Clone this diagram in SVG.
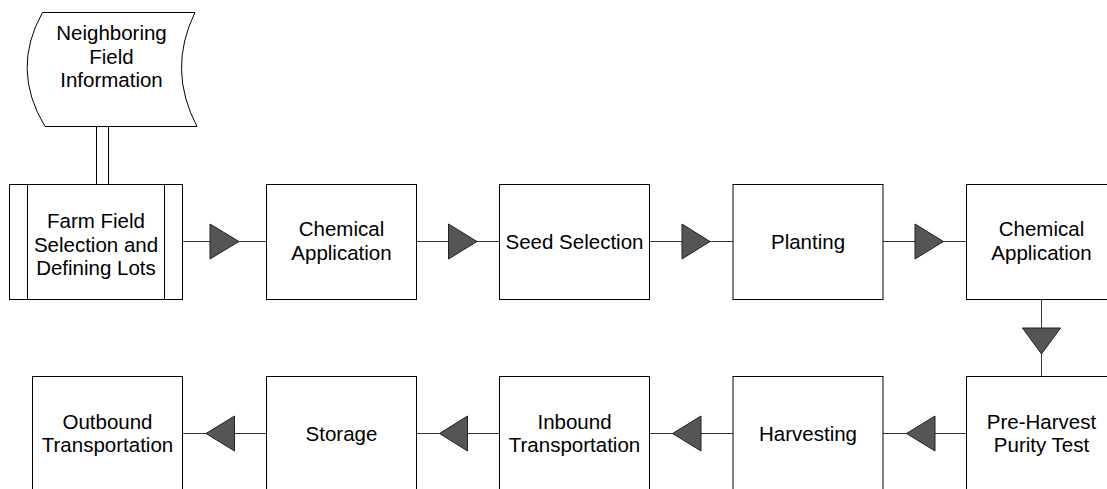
<svg xmlns="http://www.w3.org/2000/svg" width="1107" height="489" viewBox="0 0 1107 489">
<style>
.box{fill:#fff;stroke:#000;stroke-width:1}
.ln{stroke:#333;stroke-width:1;fill:none}
.tri{fill:#555;stroke:#222;stroke-width:1;stroke-linejoin:miter}
text{font-family:"Liberation Sans",Arial,sans-serif;font-size:20.5px;fill:#000;text-anchor:middle}
</style>
<rect width="1107" height="489" fill="#fff"/>
<g id="connectors">
<line class="ln" x1="96.5" y1="127" x2="96.5" y2="184.5" style="stroke:#000"/>
<line class="ln" x1="108.5" y1="127" x2="108.5" y2="184.5" style="stroke:#000"/>
<line class="ln" x1="182.5" y1="241.5" x2="266.5" y2="241.5"/>
<polygon class="tri" points="210,224 239,241.5 210,259"/>
<line class="ln" x1="416.5" y1="241.5" x2="499.5" y2="241.5"/>
<polygon class="tri" points="448.5,224 477,241.5 448.5,259"/>
<line class="ln" x1="649.5" y1="241.5" x2="733" y2="241.5"/>
<polygon class="tri" points="682,224 710,241.5 682,259"/>
<line class="ln" x1="883" y1="241.5" x2="966.5" y2="241.5"/>
<polygon class="tri" points="915,224 943.5,241.5 915,259"/>
<line class="ln" x1="1041.5" y1="299.5" x2="1041.5" y2="376.5"/>
<polygon class="tri" points="1022.5,328 1060.5,328 1041.5,354"/>
<line class="ln" x1="883" y1="433.5" x2="966.5" y2="433.5"/>
<polygon class="tri" points="935,416 906.5,433.5 935,451"/>
<line class="ln" x1="649.5" y1="433.5" x2="733" y2="433.5"/>
<polygon class="tri" points="701,416 672.5,433.5 701,451"/>
<line class="ln" x1="416.5" y1="433.5" x2="499.5" y2="433.5"/>
<polygon class="tri" points="467.5,416 439.5,433.5 467.5,451"/>
<line class="ln" x1="182.5" y1="433.5" x2="266.5" y2="433.5"/>
<polygon class="tri" points="234.5,416 206,433.5 234.5,451"/>
</g>
<g id="neighboring">
<path class="box" d="M42.5,12.5 L195,12.5 Q167,69.5 197,126.5 L45,126.5 Q10.5,69.5 42.5,12.5 Z"/>
<text x="111.5" y="40">Neighboring</text>
<text x="111.5" y="63.5">Field</text>
<text x="111.5" y="87">Information</text>
</g>
<g id="farm-field">
<rect class="box" x="9.5" y="184.5" width="173" height="115"/>
<line class="ln" x1="27.5" y1="184.5" x2="27.5" y2="299.5" style="stroke:#000"/>
<line class="ln" x1="164.5" y1="184.5" x2="164.5" y2="299.5" style="stroke:#000"/>
<text x="96" y="228">Farm Field</text>
<text x="96" y="251.5">Selection and</text>
<text x="96" y="275">Defining Lots</text>
</g>
<g id="chem1">
<rect class="box" x="266.5" y="184.5" width="150" height="115"/>
<text x="341.5" y="236">Chemical</text>
<text x="341.5" y="260">Application</text>
</g>
<g id="seed">
<rect class="box" x="499.5" y="184.5" width="150" height="115"/>
<text x="574.5" y="248.5">Seed Selection</text>
</g>
<g id="planting">
<rect class="box" x="733" y="184.5" width="150" height="115"/>
<text x="808" y="249">Planting</text>
</g>
<g id="chem2">
<rect class="box" x="966.5" y="184.5" width="150" height="115"/>
<text x="1041.5" y="236">Chemical</text>
<text x="1041.5" y="260">Application</text>
</g>
<g id="preharvest">
<rect class="box" x="966.5" y="376.5" width="150" height="115"/>
<text x="1041.5" y="429">Pre-Harvest</text>
<text x="1041.5" y="451.5">Purity Test</text>
</g>
<g id="harvesting">
<rect class="box" x="733" y="376.5" width="150" height="115"/>
<text x="808" y="440.5">Harvesting</text>
</g>
<g id="inbound">
<rect class="box" x="499.5" y="376.5" width="150" height="115"/>
<text x="574.5" y="429">Inbound</text>
<text x="574.5" y="452">Transportation</text>
</g>
<g id="storage">
<rect class="box" x="266.5" y="376.5" width="150" height="115"/>
<text x="341.5" y="440.5">Storage</text>
</g>
<g id="outbound">
<rect class="box" x="32.5" y="376.5" width="150" height="115"/>
<text x="107.5" y="429">Outbound</text>
<text x="107.5" y="452">Transportation</text>
</g>
</svg>
